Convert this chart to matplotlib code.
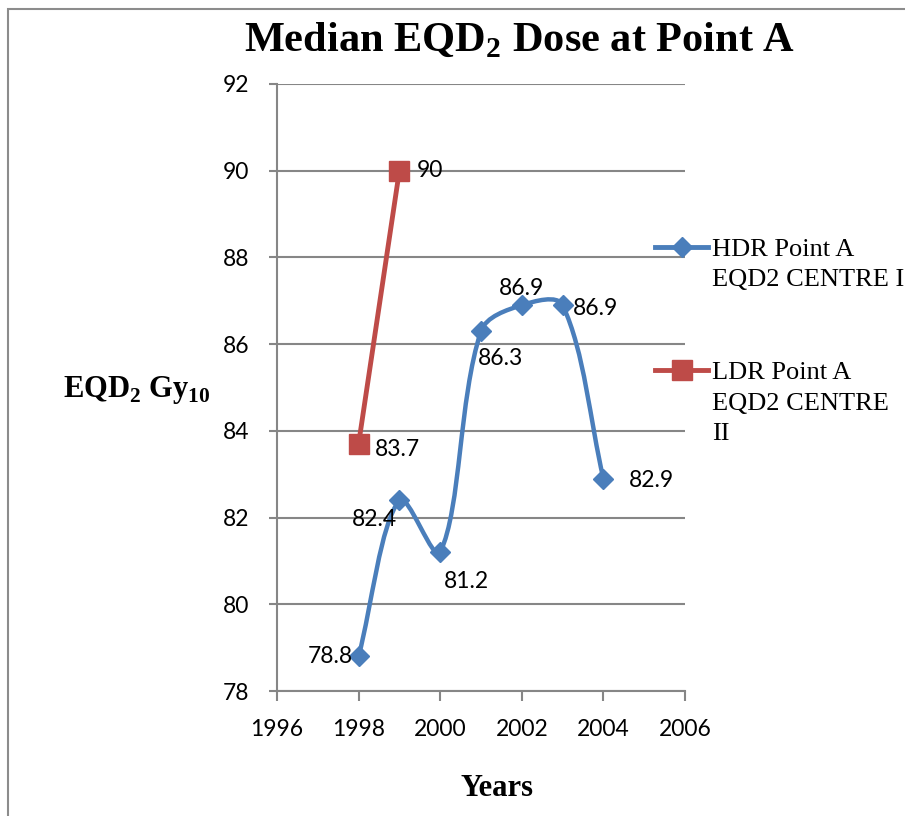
import numpy as np
import matplotlib
matplotlib.use("Agg")
from matplotlib import pyplot as plt
from matplotlib.path import Path
from matplotlib.patches import PathPatch, Rectangle
from matplotlib.lines import Line2D

plt.rcParams['mathtext.fontset'] = 'custom'
plt.rcParams['mathtext.rm'] = 'Liberation Serif'
plt.rcParams['mathtext.bf'] = 'Liberation Serif:bold'

# data
hdr_years = [1998, 1999, 2000, 2001, 2002, 2003, 2004]
hdr_dose = [78.8, 82.4, 81.2, 86.3, 86.9, 86.9, 82.9]
ldr_years = [1998, 1999]
ldr_dose = [83.7, 90]
hdr_name = 'HDR Point A\nEQD2 CENTRE I'
ldr_name = 'LDR Point A\nEQD2 CENTRE\nII'

# label placement (offsets in pixels, alignment)
hdr_label_pos = [(-6, 0, 'right'), (-2, -19, 'right'), (4, -29, 'left'), (-3, -27, 'left'),
                 (0, 17, 'center'), (10, -3, 'left'), (25, -2, 'left')]
ldr_label_pos = [(16, -6, 'left'), (17, 0, 'left')]

BLUE = '#4A7EBB'
RED = '#BE4B48'
GRAY = '#868686'
W, H = 905, 816
YSCALE = 43.36 / 40.8  # pixel aspect of one y unit vs one year


def smooth_path(xs, ys):
    # Excel-style smoothed line: cubic bezier through every point,
    # tangent lengths weighted by the neighbouring chord lengths
    pts = np.column_stack([xs, np.asarray(ys) * YSCALE]).astype(float)
    n = len(pts)
    verts = [pts[0]]
    codes = [Path.MOVETO]
    for i in range(n - 1):
        p0 = pts[max(i - 1, 0)]
        p1 = pts[i]
        p2 = pts[i + 1]
        p3 = pts[min(i + 2, n - 1)]
        d01 = np.hypot(*(p1 - p0))
        d12 = np.hypot(*(p2 - p1))
        d23 = np.hypot(*(p3 - p2))
        c1 = p1 + (p2 - p0) * d12 / (3 * (d01 + d12))
        c2 = p2 - (p3 - p1) * d12 / (3 * (d12 + d23))
        verts += [c1, c2, p2]
        codes += [Path.CURVE4] * 3
    verts = np.array(verts)
    verts[:, 1] /= YSCALE
    return Path(verts, codes)


fig = plt.figure(figsize=(W / 100, H / 100), dpi=100)
ax = fig.add_axes([277 / W, 1 - 691 / H, (685 - 277) / W, (691 - 84) / H])

ax.add_patch(PathPatch(smooth_path(hdr_years, hdr_dose), facecolor='none', edgecolor=BLUE,
                       lw=3.2, capstyle='round', joinstyle='round', zorder=3))
ax.plot(hdr_years, hdr_dose, linestyle='none', marker='D', markersize=10, color=BLUE, zorder=4)
ax.plot(ldr_years, ldr_dose, color=RED, lw=3.5, marker='s', markersize=14, zorder=3)

for x, y, (dx, dy, ha) in zip(hdr_years, hdr_dose, hdr_label_pos):
    ax.annotate(f'{y:g}', (x, y), xytext=(dx * 0.72, dy * 0.72), textcoords='offset points',
                ha=ha, va='center', fontsize=16.5, family='Lato', zorder=5)
for x, y, (dx, dy, ha) in zip(ldr_years, ldr_dose, ldr_label_pos):
    ax.annotate(f'{y:g}', (x, y), xytext=(dx * 0.72, dy * 0.72), textcoords='offset points',
                ha=ha, va='center', fontsize=16.5, family='Lato', zorder=5)

ax.set_xlim(1996, 2006)
ax.set_ylim(78, 92)
ax.set_xticks(np.arange(1996, 2007, 2))
ax.set_yticks(np.arange(78, 93, 2))
ax.yaxis.grid(True, color=GRAY, lw=1.5)
ax.set_axisbelow(True)
for s in ['top', 'right']:
    ax.spines[s].set_visible(False)
for s in ['left', 'bottom']:
    ax.spines[s].set_color(GRAY)
    ax.spines[s].set_linewidth(1.5)
ax.tick_params(axis='x', length=7, width=1.5, color=GRAY, pad=13, labelsize=16.5)
ax.tick_params(axis='y', length=6, width=1.5, color=GRAY, pad=14, labelsize=16.5)
for lab in ax.get_xticklabels() + ax.get_yticklabels():
    lab.set_family('Lato')

fig.text(520 / W, 1 - 40 / H, r'Median EQD$_\mathbf{2}$ Dose at Point A', ha='center', va='center',
         fontsize=30.5, fontweight='bold', family='Liberation Serif')
fig.text(63 / W, 1 - 390 / H, r'EQD$_\mathbf{2}$ Gy$_\mathbf{10}$', ha='left', va='center',
         fontsize=22, fontweight='bold', family='Liberation Serif')
fig.text(497 / W, 1 - 788 / H, 'Years', ha='center', va='center',
         fontsize=22, fontweight='bold', family='Liberation Serif')

# legend drawn by hand to keep handles aligned with the first text line
for name, color, marker, ms, y in [(hdr_name, BLUE, 'D', 10, 247), (ldr_name, RED, 's', 14, 370)]:
    fig.add_artist(Line2D([655 / W, 708 / W], [1 - y / H, 1 - y / H], color=color, lw=3.5,
                          transform=fig.transFigure))
    fig.add_artist(Line2D([681.5 / W], [1 - y / H], color=color, marker=marker, markersize=ms,
                          linestyle='none', transform=fig.transFigure))
    fig.text(712 / W, 1 - (y - 8) / H, name, ha='left', va='top', fontsize=19,
             family='Liberation Serif', linespacing=1.5)

fig.add_artist(Rectangle((8 / W, -0.1), 1.2, 1 - 9 / H + 0.1, transform=fig.transFigure,
                         facecolor='none', edgecolor='#8c8c8c', lw=1.5))

fig.savefig('out.png', dpi=100)
